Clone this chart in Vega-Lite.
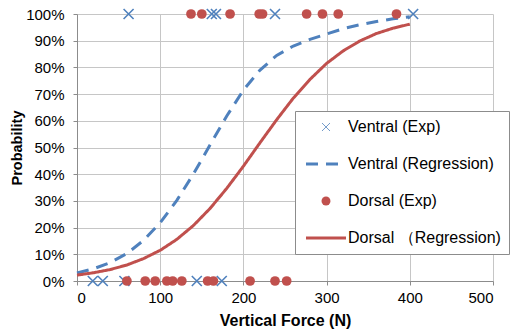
{
  "$schema": "https://vega.github.io/schema/vega-lite/v6.json",
  "width": 416,
  "height": 267,
  "autosize": "none",
  "padding": {"left": 77, "top": 14, "right": 18, "bottom": 50},
  "background": "white",
  "config": {
    "view": {"stroke": null},
    "font": "Liberation Sans",
    "axis": {
      "labelFont": "Liberation Sans",
      "labelFontSize": 15,
      "labelColor": "#000000",
      "titleFont": "Liberation Sans",
      "titleFontWeight": "bold",
      "titleColor": "#000000",
      "gridColor": "#c6c6c6",
      "gridWidth": 1,
      "domainColor": "#8c8c8c",
      "tickColor": "#8c8c8c",
      "tickSize": 4
    }
  },
  "datasets": {
    "curves": [
      {"N": 0, "p": 0.030, "s": "Ventral (Regression)"},
      {"N": 20, "p": 0.046, "s": "Ventral (Regression)"},
      {"N": 40, "p": 0.069, "s": "Ventral (Regression)"},
      {"N": 60, "p": 0.103, "s": "Ventral (Regression)"},
      {"N": 80, "p": 0.152, "s": "Ventral (Regression)"},
      {"N": 100, "p": 0.218, "s": "Ventral (Regression)"},
      {"N": 120, "p": 0.302, "s": "Ventral (Regression)"},
      {"N": 140, "p": 0.401, "s": "Ventral (Regression)"},
      {"N": 160, "p": 0.510, "s": "Ventral (Regression)"},
      {"N": 180, "p": 0.618, "s": "Ventral (Regression)"},
      {"N": 200, "p": 0.715, "s": "Ventral (Regression)"},
      {"N": 220, "p": 0.790, "s": "Ventral (Regression)"},
      {"N": 240, "p": 0.845, "s": "Ventral (Regression)"},
      {"N": 260, "p": 0.880, "s": "Ventral (Regression)"},
      {"N": 280, "p": 0.905, "s": "Ventral (Regression)"},
      {"N": 300, "p": 0.925, "s": "Ventral (Regression)"},
      {"N": 320, "p": 0.945, "s": "Ventral (Regression)"},
      {"N": 340, "p": 0.960, "s": "Ventral (Regression)"},
      {"N": 360, "p": 0.972, "s": "Ventral (Regression)"},
      {"N": 380, "p": 0.982, "s": "Ventral (Regression)"},
      {"N": 400, "p": 0.990, "s": "Ventral (Regression)"},
      {"N": 0, "p": 0.022, "s": "Dorsal （Regression)"},
      {"N": 20, "p": 0.031, "s": "Dorsal （Regression)"},
      {"N": 40, "p": 0.043, "s": "Dorsal （Regression)"},
      {"N": 60, "p": 0.060, "s": "Dorsal （Regression)"},
      {"N": 80, "p": 0.084, "s": "Dorsal （Regression)"},
      {"N": 100, "p": 0.115, "s": "Dorsal （Regression)"},
      {"N": 120, "p": 0.156, "s": "Dorsal （Regression)"},
      {"N": 140, "p": 0.208, "s": "Dorsal （Regression)"},
      {"N": 160, "p": 0.272, "s": "Dorsal （Regression)"},
      {"N": 180, "p": 0.347, "s": "Dorsal （Regression)"},
      {"N": 200, "p": 0.430, "s": "Dorsal （Regression)"},
      {"N": 220, "p": 0.518, "s": "Dorsal （Regression)"},
      {"N": 240, "p": 0.604, "s": "Dorsal （Regression)"},
      {"N": 260, "p": 0.685, "s": "Dorsal （Regression)"},
      {"N": 280, "p": 0.755, "s": "Dorsal （Regression)"},
      {"N": 300, "p": 0.815, "s": "Dorsal （Regression)"},
      {"N": 320, "p": 0.862, "s": "Dorsal （Regression)"},
      {"N": 340, "p": 0.899, "s": "Dorsal （Regression)"},
      {"N": 360, "p": 0.927, "s": "Dorsal （Regression)"},
      {"N": 380, "p": 0.947, "s": "Dorsal （Regression)"},
      {"N": 400, "p": 0.962, "s": "Dorsal （Regression)"}
    ],
    "ventral": [
      {"N": 62, "p": 1, "s": "Ventral (Exp)"},
      {"N": 162, "p": 1, "s": "Ventral (Exp)"},
      {"N": 167, "p": 1, "s": "Ventral (Exp)"},
      {"N": 238, "p": 1, "s": "Ventral (Exp)"},
      {"N": 404, "p": 1, "s": "Ventral (Exp)"},
      {"N": 19, "p": 0, "s": "Ventral (Exp)"},
      {"N": 31, "p": 0, "s": "Ventral (Exp)"},
      {"N": 57, "p": 0, "s": "Ventral (Exp)"},
      {"N": 144, "p": 0, "s": "Ventral (Exp)"},
      {"N": 174, "p": 0, "s": "Ventral (Exp)"}
    ],
    "dorsal": [
      {"N": 137, "p": 1, "s": "Dorsal (Exp)"},
      {"N": 150, "p": 1, "s": "Dorsal (Exp)"},
      {"N": 184, "p": 1, "s": "Dorsal (Exp)"},
      {"N": 219, "p": 1, "s": "Dorsal (Exp)"},
      {"N": 223, "p": 1, "s": "Dorsal (Exp)"},
      {"N": 276, "p": 1, "s": "Dorsal (Exp)"},
      {"N": 295, "p": 1, "s": "Dorsal (Exp)"},
      {"N": 314, "p": 1, "s": "Dorsal (Exp)"},
      {"N": 384, "p": 1, "s": "Dorsal (Exp)"},
      {"N": 60, "p": 0, "s": "Dorsal (Exp)"},
      {"N": 82, "p": 0, "s": "Dorsal (Exp)"},
      {"N": 94, "p": 0, "s": "Dorsal (Exp)"},
      {"N": 108, "p": 0, "s": "Dorsal (Exp)"},
      {"N": 115, "p": 0, "s": "Dorsal (Exp)"},
      {"N": 126, "p": 0, "s": "Dorsal (Exp)"},
      {"N": 157, "p": 0, "s": "Dorsal (Exp)"},
      {"N": 164, "p": 0, "s": "Dorsal (Exp)"},
      {"N": 208, "p": 0, "s": "Dorsal (Exp)"},
      {"N": 238, "p": 0, "s": "Dorsal (Exp)"},
      {"N": 252, "p": 0, "s": "Dorsal (Exp)"}
    ]
  },
  "encoding": {
    "x": {
      "field": "N", "type": "quantitative",
      "scale": {"domain": [0, 500], "nice": false},
      "axis": {"values": [0, 100, 200, 300, 400, 500], "title": "Vertical Force (N)", "titleFontSize": 16, "labelPadding": 5, "titlePadding": 7}
    },
    "y": {
      "field": "p", "type": "quantitative",
      "scale": {"domain": [0, 1], "nice": false},
      "axis": {"values": [0, 0.1, 0.2, 0.3, 0.4, 0.5, 0.6, 0.7, 0.8, 0.9, 1], "format": ".0%", "title": "Probability", "titleFontSize": 14.5, "labelPadding": 9, "titlePadding": 1}
    },
    "color": {
      "field": "s", "type": "nominal",
      "scale": {
        "domain": ["Ventral (Exp)", "Ventral (Regression)", "Dorsal (Exp)", "Dorsal （Regression)"],
        "range": ["#4F81BD", "#4F81BD", "#C0504D", "#C0504D"]
      },
      "legend": {
        "title": null,
        "orient": "none",
        "legendX": 218,
        "legendY": 97,
        "padding": 8,
        "strokeColor": "#8c8c8c",
        "fillColor": "white",
        "labelFont": "Liberation Sans",
        "labelFontSize": 16,
        "labelColor": "#000000",
        "labelLimit": 0,
        "rowPadding": 21,
        "encode": {
          "symbols": {
            "update": {
              "x": {"value": 23},
              "shape": {"signal": "datum.value === 'Ventral (Exp)' ? 'M-1,-1L1,1M-1,1L1,-1' : datum.value === 'Dorsal (Exp)' ? 'circle' : 'stroke'"},
              "size": {"signal": "datum.value === 'Ventral (Exp)' ? 64 : datum.value === 'Dorsal (Exp)' ? 80 : 1600"},
              "strokeDash": {"signal": "datum.value === 'Ventral (Regression)' ? [12, 8] : [1, 0]"},
              "strokeWidth": {"signal": "datum.value === 'Ventral (Exp)' ? 1 : datum.value === 'Dorsal (Exp)' ? 0 : 3"},
              "fill": {"signal": "datum.value === 'Dorsal (Exp)' ? '#C0504D' : 'transparent'"},
              "stroke": {"signal": "datum.value === 'Ventral (Exp)' ? '#8eb4e3' : scale('color', datum.value)"},
              "opacity": {"value": 1}
            }
          },
          "labels": {
            "update": {
              "x": {"value": 45}
            }
          }
        }
      }
    }
  },
  "layer": [
    {
      "data": {"name": "curves"},
      "mark": {"type": "line", "strokeWidth": 3, "clip": false},
      "encoding": {
        "strokeDash": {
          "field": "s", "type": "nominal",
          "scale": {"domain": ["Ventral (Regression)", "Dorsal （Regression)"], "range": [[12, 8], [1, 0]]},
          "legend": null
        }
      }
    },
    {
      "data": {"name": "ventral"},
      "mark": {"type": "point", "shape": "M-1,-1L1,1M-1,1L1,-1", "filled": false, "size": 100, "strokeWidth": 1.6, "opacity": 1, "clip": false}
    },
    {
      "data": {"name": "dorsal"},
      "mark": {"type": "point", "shape": "circle", "filled": true, "size": 95, "opacity": 1, "clip": false}
    }
  ]
}
